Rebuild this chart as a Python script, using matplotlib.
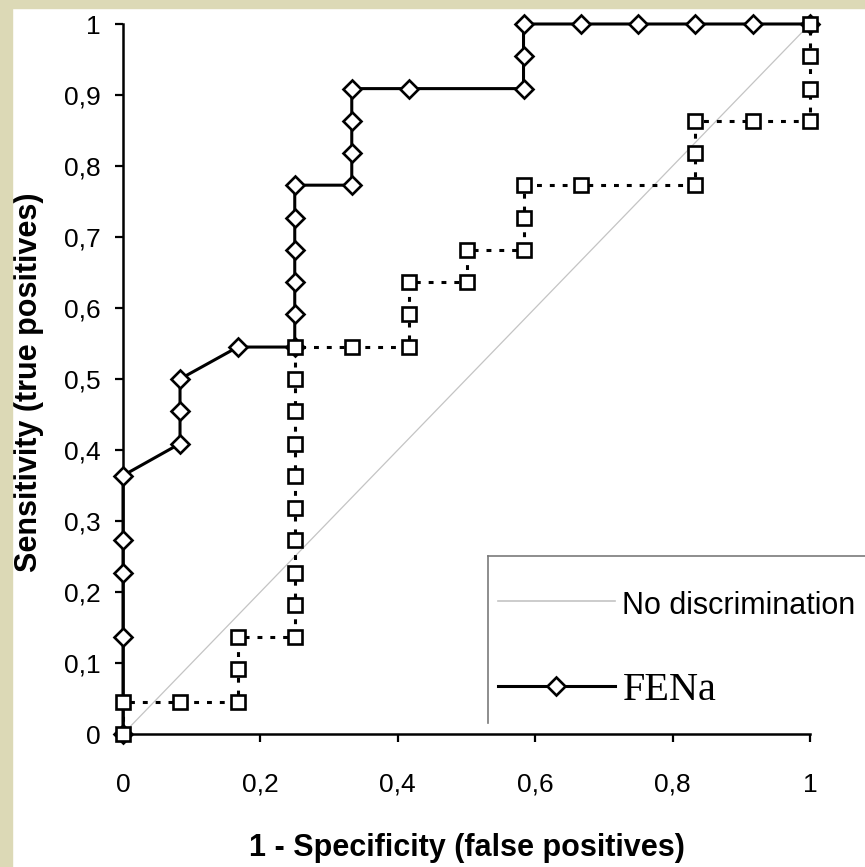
import matplotlib
matplotlib.use("Agg")
import matplotlib.pyplot as plt
from matplotlib.lines import Line2D
from matplotlib.patches import Rectangle

# ROC points
fena_x = [0, 0, 0, 0, 0, 0.083, 0.083, 0.083, 0.167, 0.25, 0.25, 0.25, 0.25,
          0.25, 0.25, 0.333, 0.333, 0.333, 0.333, 0.417, 0.583, 0.583, 0.583,
          0.667, 0.75, 0.833, 0.917, 1]
fena_y = [0, 0.136, 0.227, 0.273, 0.364, 0.409, 0.455, 0.5, 0.545, 0.545,
          0.591, 0.636, 0.682, 0.727, 0.773, 0.773, 0.818, 0.864, 0.909, 0.909,
          0.909, 0.955, 1, 1, 1, 1, 1, 1]

other_x = [0, 0, 0.083, 0.167, 0.167, 0.167, 0.25, 0.25, 0.25, 0.25, 0.25,
           0.25, 0.25, 0.25, 0.25, 0.25, 0.333, 0.417, 0.417, 0.417, 0.5, 0.5,
           0.583, 0.583, 0.583, 0.667, 0.833, 0.833, 0.833, 0.917, 1, 1, 1, 1]
other_y = [0, 0.045, 0.045, 0.045, 0.091, 0.136, 0.136, 0.182, 0.227, 0.273,
           0.318, 0.364, 0.409, 0.455, 0.5, 0.545, 0.545, 0.545, 0.591, 0.636,
           0.636, 0.682, 0.682, 0.727, 0.773, 0.773, 0.773, 0.818, 0.864,
           0.864, 0.864, 0.909, 0.955, 1]

diag = [0, 1]

xticks = [0, 0.2, 0.4, 0.6, 0.8, 1]
xlabels = ["0", "0,2", "0,4", "0,6", "0,8", "1"]
yticks = [0, 0.1, 0.2, 0.3, 0.4, 0.5, 0.6, 0.7, 0.8, 0.9, 1]
ylabels = ["0", "0,1", "0,2", "0,3", "0,4", "0,5", "0,6", "0,7", "0,8", "0,9", "1"]

W, H = 865, 867
beige = "#dcd9b6"

fig = plt.figure(figsize=(W / 100, H / 100), dpi=100)
fig.patch.set_facecolor("white")

ax = fig.add_axes([123 / W, 1 - 734 / H, 687 / W, 710 / H])

ax.plot(diag, diag, color="#c4c4c4", lw=0.9, zorder=1)
ax.plot(fena_x, fena_y, color="black", lw=2.2, marker="D", ms=8.8,
        mfc="white", mec="black", mew=1.9, clip_on=False, zorder=3)
ax.plot(other_x, other_y, color="black", lw=2.2, dashes=(1.6, 2.6),
        marker="s", ms=9.5, mfc="white", mec="black", mew=1.9,
        clip_on=False, zorder=4)

ax.set_xlim(0, 1)
ax.set_ylim(0, 1)
ax.set_xticks(xticks)
ax.set_xticklabels(xlabels)
ax.set_yticks(yticks)
ax.set_yticklabels(ylabels)

for s in ["top", "right"]:
    ax.spines[s].set_visible(False)
for s in ["left", "bottom"]:
    ax.spines[s].set_linewidth(1.8)

ax.tick_params(axis="both", length=6, width=1.6, direction="out",
               labelsize=19)
ax.tick_params(axis="x", pad=22)
ax.tick_params(axis="y", pad=10)
for lab in ax.get_xticklabels() + ax.get_yticklabels():
    lab.set_family("Liberation Sans")

ax.set_xlabel("1 - Specificity (false positives)", fontsize=22,
              fontweight="bold", family="Liberation Sans", va="center")
ax.xaxis.set_label_coords(0.5, -0.1606)
ax.set_ylabel("Sensitivity (true positives)", fontsize=22,
              fontweight="bold", family="Liberation Sans", va="center")
ax.yaxis.set_label_coords(-0.1375, 0.495)

# legend
h1 = Line2D([], [], color="#c4c4c4", lw=1.2)
h2 = Line2D([], [], color="black", lw=2.2, marker="D", ms=8.8,
            mfc="white", mec="black", mew=1.9)
leg = fig.legend([h1, h2], ["No discrimination", "FENa"],
                 loc="center left", bbox_to_anchor=(498 / W, 1 - 648 / H),
                 frameon=False, borderpad=0, borderaxespad=0,
                 handlelength=3.0, handletextpad=0.2, labelspacing=1.3,
                 numpoints=1, prop={"size": 28})
t1, t2 = leg.get_texts()
t1.set_family("Liberation Sans")
t1.set_size(22)
t2.set_family("Liberation Serif")
t2.set_size(29)

# legend box edges (cut by the image border)
fig.add_artist(Line2D([488 / W, 488 / W], [1 - 556 / H, 1 - 723 / H],
                      color="#7a7a7a", lw=1.2))
fig.add_artist(Line2D([488 / W, 1.0], [1 - 556 / H, 1 - 556 / H],
                      color="#7a7a7a", lw=1.2))

# beige frame on the left and top
fig.add_artist(Rectangle((0, 0), 12 / W, 1, transform=fig.transFigure,
                         color=beige, zorder=10))
fig.add_artist(Rectangle((0, 1 - 8 / H), 1, 8 / H, transform=fig.transFigure,
                         color=beige, zorder=10))

fig.savefig("out.png", dpi=100)
